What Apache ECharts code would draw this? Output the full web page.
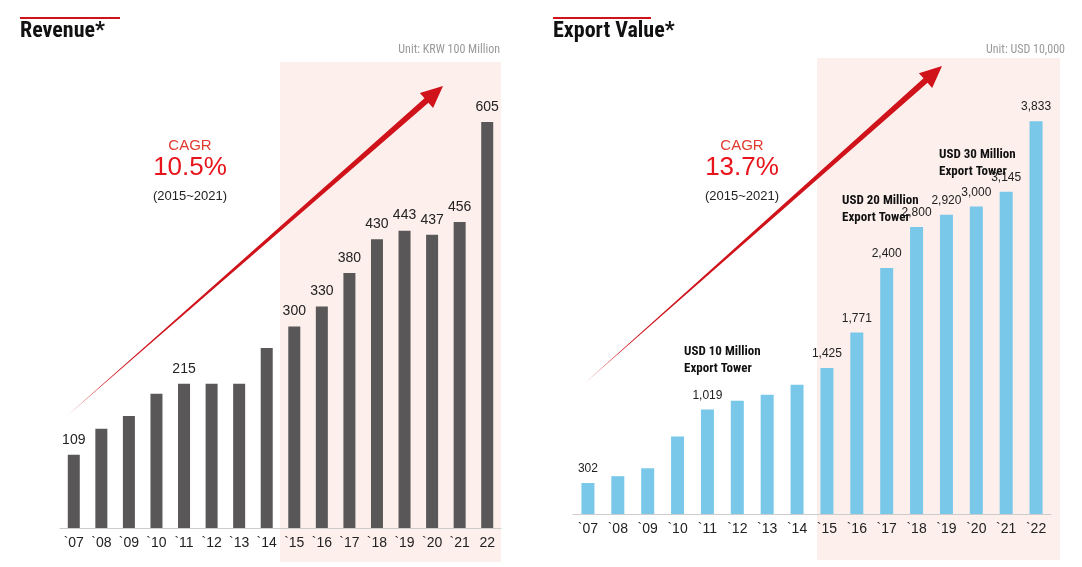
<!DOCTYPE html>
<html><head><meta charset="utf-8">
<script src="https://cdn.jsdelivr.net/npm/echarts@6/dist/echarts.min.js"></script>
<style>html,body{margin:0;padding:0;background:#fff}#c{width:1082px;height:567px}</style>
</head><body><div id="c"></div>
<script>
const catsL = ['`07','`08','`09','`10','`11','`12','`13','`14','`15','`16','`17','`18','`19','`20','`21','22'];
const catsR = ['`07','`08','`09','`10','`11','`12','`13','`14','`15','`16','`17','`18','`19','`20','`21','`22'];
const revenue = [109,148,167,200,215,215,215,268,300,330,380,430,443,437,456,605];
const exportVal = [302,369,446,757,1019,1106,1164,1261,1425,1771,2400,2800,2920,3000,3145,3833];
const labeledIdx = [0,4,8,9,10,11,12,13,14,15];

const chart = echarts.init(document.getElementById('c'));
function lbl(vals, fmt, size){
  return vals.map((v,i)=>({value:v,label:{show:labeledIdx.includes(i),position:'top',distance:8,color:'#222',fontSize:size,formatter:fmt}}));
}
function arrow(x1,y1,x2,y2,w,hw,hl){
  const dx=x2-x1,dy=y2-y1,L=Math.hypot(dx,dy),ux=dx/L,uy=dy/L,nx=-uy,ny=ux;
  const bx=x2-ux*hl,by=y2-uy*hl;
  return {type:'polygon',z:5,shape:{points:[[x1,y1],[bx+nx*w,by+ny*w],[bx+nx*hw,by+ny*hw],[x2,y2],[bx-nx*hw,by-ny*hw],[bx-nx*w,by-ny*w]]},style:{fill:'#d0121b'}};
}
const tf='"Liberation Sans Narrow","Roboto Condensed",Arial,sans-serif';
chart.setOption({
  animation:false,
  grid:[{left:60,width:441,top:40,bottom:39},{left:573,width:478,top:40,bottom:53}],
  xAxis:[
    {gridIndex:0,type:'category',data:catsL,axisTick:{show:false},axisLine:{lineStyle:{color:'#ccc'}},axisLabel:{color:'#222',fontSize:14,margin:8}},
    {gridIndex:1,type:'category',data:catsR,axisTick:{show:false},axisLine:{lineStyle:{color:'#ccc'}},axisLabel:{color:'#222',fontSize:14,margin:8}}
  ],
  yAxis:[
    {gridIndex:0,min:0,max:727,show:false},
    {gridIndex:1,min:0,max:4625,show:false}
  ],
  series:[
    {type:'bar',xAxisIndex:0,yAxisIndex:0,barWidth:12,itemStyle:{color:'#595757'},data:lbl(revenue,'{c}',14),z:3},
    {type:'bar',xAxisIndex:1,yAxisIndex:1,barWidth:13,itemStyle:{color:'#79c8ea'},data:lbl(exportVal,p=>p.value.toLocaleString('en-US'),12),z:3}
  ],
  graphic:[
    {type:'rect',z:0,shape:{x:280,y:62,width:221,height:500},style:{fill:'#fcefec'}},
    {type:'rect',z:0,shape:{x:817,y:58,width:243,height:502},style:{fill:'#fcefec'}},
    {type:'rect',shape:{x:20,y:17,width:100,height:2},style:{fill:'#d0121b'}},
    {type:'rect',shape:{x:553,y:17,width:98,height:2},style:{fill:'#d0121b'}},
    {type:'text',left:20,top:20,style:{text:'Revenue*',font:'bold 22px '+tf,fill:'#111'}},
    {type:'text',left:553,top:20,style:{text:'Export Value*',font:'bold 22px '+tf,fill:'#111'}},
    {type:'text',right:582,top:44,style:{text:'Unit: KRW 100 Million',font:'12px '+tf,fill:'#999'}},
    {type:'text',right:17,top:44,style:{text:'Unit: USD 10,000',font:'12px '+tf,fill:'#999'}},
    arrow(68,415,443,86,3,10,22),
    arrow(585,383,942,66,3,10,22),
    {type:'text',z:6,x:190,y:138,style:{text:'CAGR',font:'15px Arial',fill:'#e03a2f',textAlign:'center'}},
    {type:'text',z:6,x:190,y:155,style:{text:'10.5%',font:'26px Arial',fill:'#e8141b',textAlign:'center'}},
    {type:'text',z:6,x:190,y:190,style:{text:'(2015~2021)',font:'13px Arial',fill:'#222',textAlign:'center'}},
    {type:'text',z:6,x:742,y:138,style:{text:'CAGR',font:'15px Arial',fill:'#e03a2f',textAlign:'center'}},
    {type:'text',z:6,x:742,y:155,style:{text:'13.7%',font:'26px Arial',fill:'#e8141b',textAlign:'center'}},
    {type:'text',z:6,x:742,y:190,style:{text:'(2015~2021)',font:'13px Arial',fill:'#222',textAlign:'center'}},
    {type:'text',z:6,x:684,y:343,style:{text:'USD 10 Million\nExport Tower',font:'bold 13px '+tf,fill:'#111',lineHeight:17}},
    {type:'text',z:6,x:842,y:192,style:{text:'USD 20 Million\nExport Tower',font:'bold 13px '+tf,fill:'#111',lineHeight:17}},
    {type:'text',z:6,x:939,y:146,style:{text:'USD 30 Million\nExport Tower',font:'bold 13px '+tf,fill:'#111',lineHeight:17}}
  ]
});
</script></body></html>
